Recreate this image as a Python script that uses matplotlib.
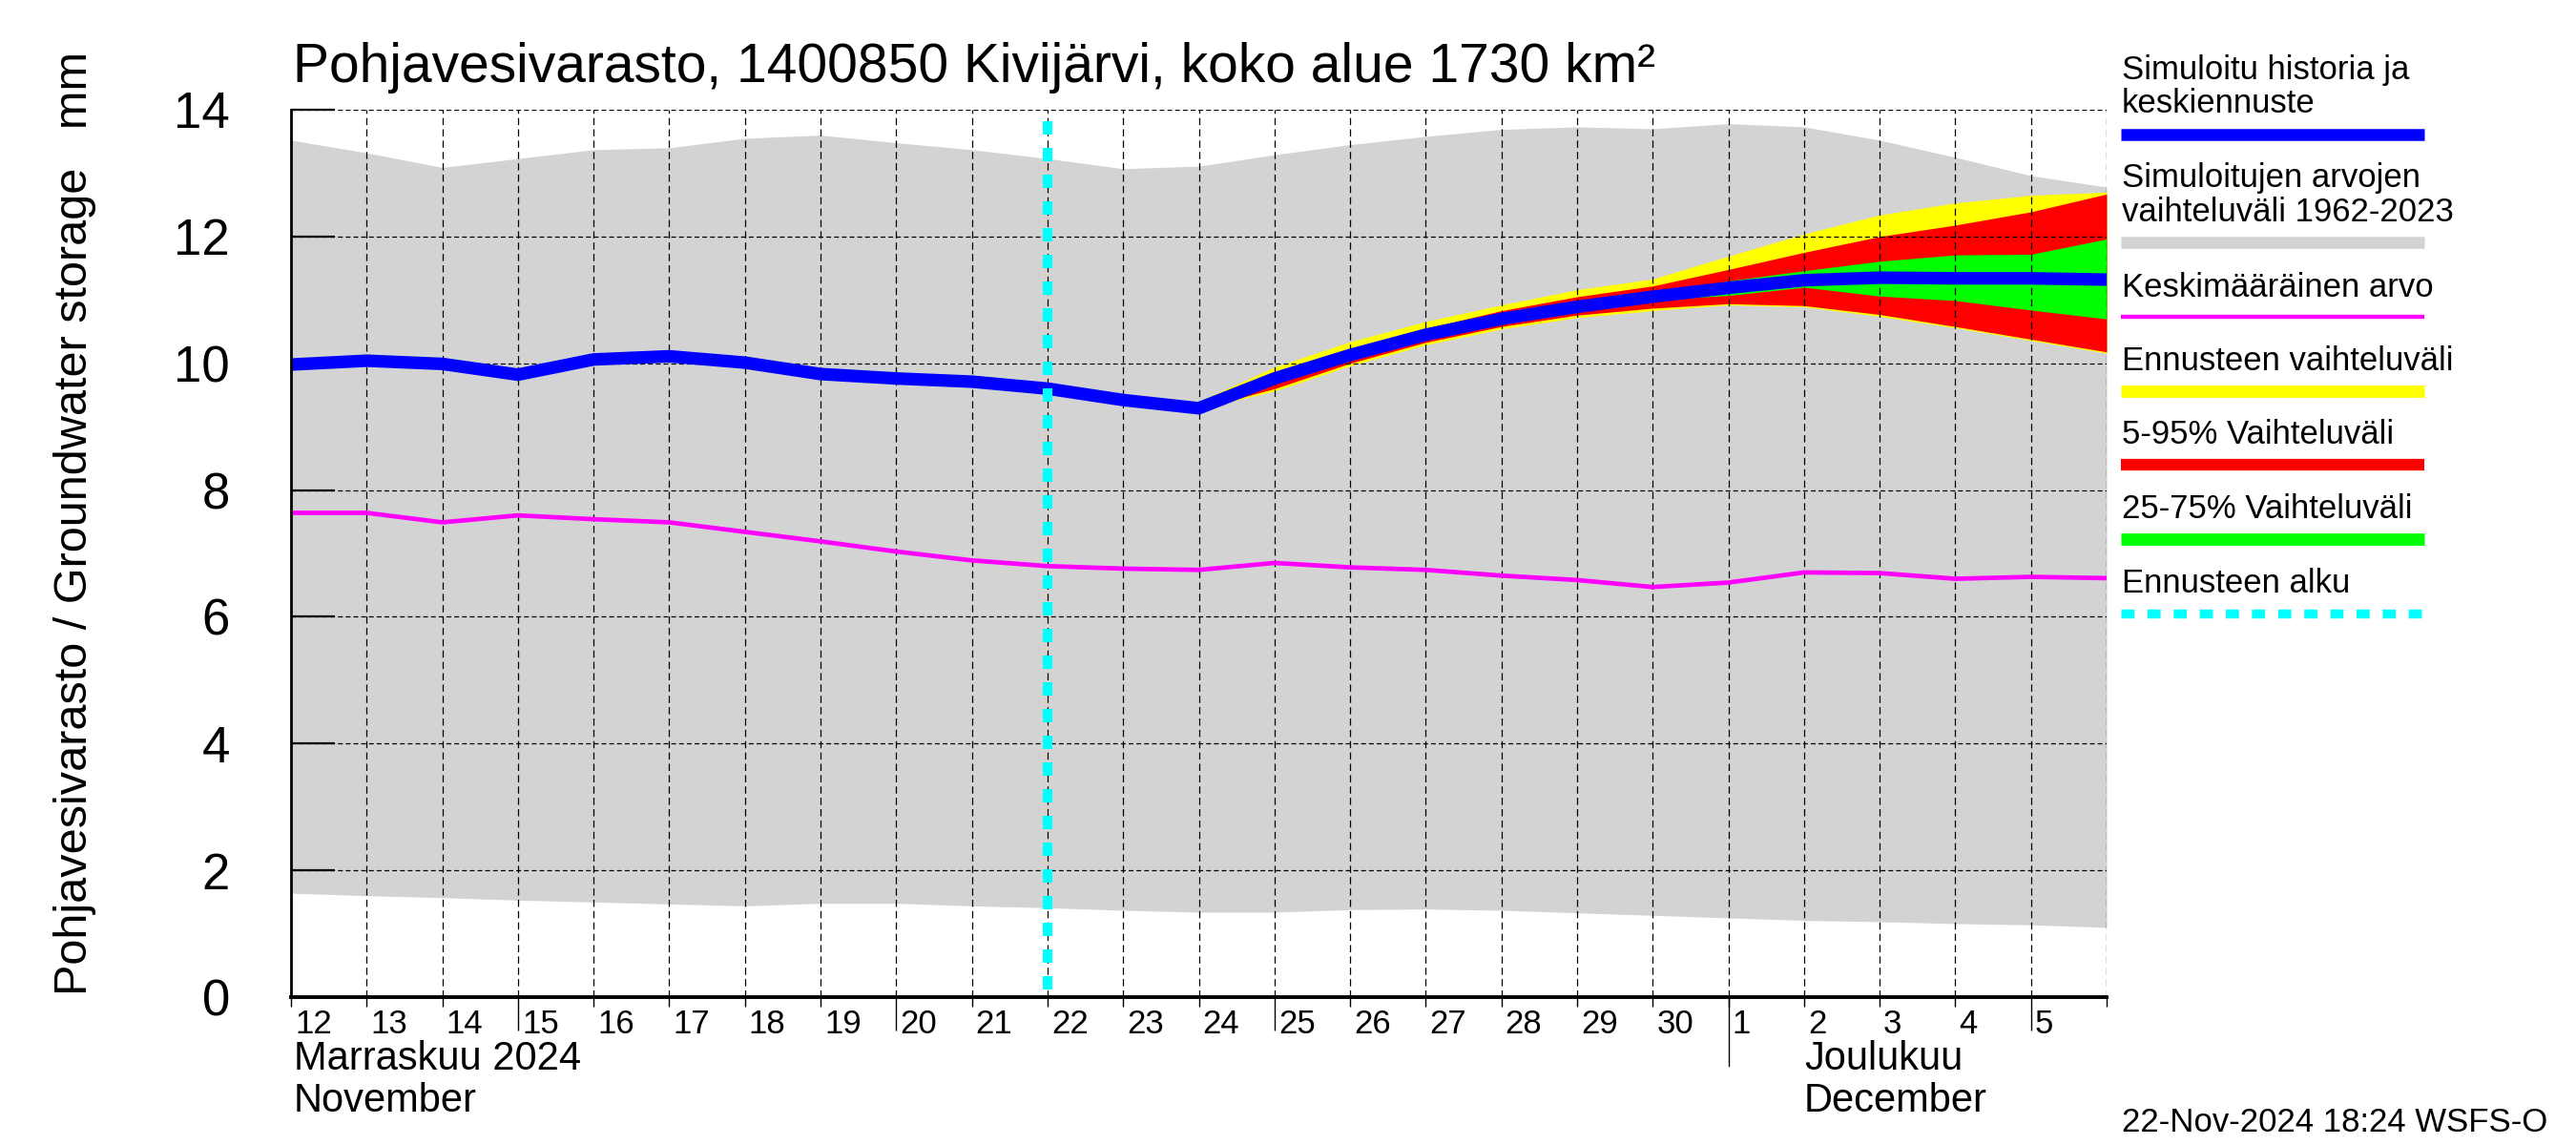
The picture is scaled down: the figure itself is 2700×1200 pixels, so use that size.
import matplotlib
matplotlib.use('Agg')
import matplotlib.pyplot as plt
import matplotlib.transforms as mtrans
from matplotlib.lines import Line2D

plt.rcParams['font.family'] = ['Liberation Sans', 'DejaVu Sans']

# ---------------- data ----------------
# day index 0 = 12 Nov 2024 00:00 ... 24 = 6 Dec 2024 00:00
days = list(range(25))
hist_max = [13.52, 13.32, 13.09, 13.23, 13.37, 13.40, 13.55, 13.60, 13.48, 13.37,
            13.23, 13.07, 13.11, 13.29, 13.45, 13.58, 13.69, 13.73, 13.70, 13.78,
            13.73, 13.52, 13.25, 12.96, 12.78]
hist_min = [1.64, 1.60, 1.57, 1.53, 1.50, 1.47, 1.44, 1.48, 1.48, 1.44,
            1.41, 1.37, 1.34, 1.34, 1.38, 1.39, 1.37, 1.33, 1.29, 1.25,
            1.21, 1.19, 1.16, 1.14, 1.10]
simulated = [9.98, 10.04, 9.99, 9.82, 10.06, 10.11, 10.01, 9.83, 9.76, 9.71,
             9.60, 9.42, 9.29, 9.76, 10.13, 10.45, 10.70, 10.89, 11.05, 11.19,
             11.31, 11.35, 11.34, 11.34, 11.32]
mean_value = [7.64, 7.64, 7.49, 7.60, 7.54, 7.49, 7.34, 7.19, 7.03, 6.89,
              6.80, 6.76, 6.74, 6.85, 6.78, 6.74, 6.65, 6.58, 6.47, 6.54,
              6.70, 6.69, 6.60, 6.63, 6.61]

fc_days = list(range(10, 25))
fc_max = [9.60, 9.43, 9.40, 9.94, 10.34, 10.66, 10.92, 11.16, 11.33, 11.69,
          12.04, 12.34, 12.53, 12.65, 12.70]
fc_min = [9.60, 9.42, 9.28, 9.56, 9.96, 10.29, 10.54, 10.72, 10.83, 10.92,
          10.89, 10.74, 10.56, 10.36, 10.16]
fc_p95 = [9.60, 9.42, 9.32, 9.85, 10.22, 10.55, 10.83, 11.05, 11.22, 11.48,
          11.75, 12.00, 12.18, 12.39, 12.67]
fc_p05 = [9.60, 9.42, 9.28, 9.60, 10.00, 10.33, 10.58, 10.76, 10.87, 10.94,
          10.91, 10.77, 10.58, 10.38, 10.18]
fc_p75 = [9.60, 9.42, 9.30, 9.80, 10.16, 10.48, 10.74, 10.93, 11.10, 11.30,
          11.46, 11.61, 11.71, 11.72, 11.96]
fc_p25 = [9.60, 9.42, 9.29, 9.72, 10.10, 10.42, 10.66, 10.85, 11.00, 11.07,
          11.20, 11.06, 10.99, 10.84, 10.70]

forecast_start = 10
day_labels = ['12', '13', '14', '15', '16', '17', '18', '19', '20', '21', '22', '23',
              '24', '25', '26', '27', '28', '29', '30', '1', '2', '3', '4', '5']
long_tick_days = [3, 8, 13, 23]
month_start_day = 19
y_ticks = [0, 2, 4, 6, 8, 10, 12, 14]

title = 'Pohjavesivarasto, 1400850 Kivijärvi, koko alue 1730 km²'
ylabel = 'Pohjavesivarasto / Groundwater storage   mm'
month1 = ['Marraskuu 2024', 'November']
month2 = ['Joulukuu', 'December']
timestamp = '22-Nov-2024 18:24 WSFS-O'
legend_entries = [
    ('Simuloitu historia ja\nkeskiennuste', '#0000ff', 9.0, 'solid'),
    ('Simuloitujen arvojen\nvaihteluväli 1962-2023', '#d3d3d3', 9.0, 'solid'),
    ('Keskimääräinen arvo', '#ff00ff', 3.2, 'solid'),
    ('Ennusteen vaihteluväli', '#ffff00', 9.2, 'solid'),
    ('5-95% Vaihteluväli', '#ff0000', 8.8, 'solid'),
    ('25-75% Vaihteluväli', '#00ff00', 9.2, 'solid'),
    ('Ennusteen alku', '#00ffff', 6.8, 'dashed'),
]

# ---------------- figure ----------------
W, H = 2700, 1200
fig = plt.figure(figsize=(27, 12), dpi=100)


def fx(x):
    return x / W


def fy(y):
    return 1 - y / H


ax = fig.add_axes([fx(305), fy(1045), (2208 - 305) / W, (1045 - 115) / H])
ax.set_xlim(0, 24)
ax.set_ylim(0, 14)

# bands and lines
ax.fill_between(days, hist_min, hist_max, color='#d3d3d3', lw=0, zorder=1)
ax.fill_between(fc_days, fc_min, fc_max, color='#ffff00', lw=0, zorder=2)
ax.fill_between(fc_days, fc_p05, fc_p95, color='#ff0000', lw=0, zorder=2.1)
ax.fill_between(fc_days, fc_p25, fc_p75, color='#00ff00', lw=0, zorder=2.2)
ax.plot(days, mean_value, color='#ff00ff', lw=3.4, zorder=4, solid_joinstyle='miter')
ax.plot(days, simulated, color='#0000ff', lw=9.5, zorder=4.5, solid_joinstyle='miter')
ax.plot([forecast_start, forecast_start], [13.82, 0], color='#00ffff', lw=7.2,
        linestyle=(0, (1.4, 1.4)), dash_capstyle='butt', zorder=6, clip_on=False)

# grid
ax.set_yticks(y_ticks)
ax.set_xticks(long_tick_days)
ax.set_xticks([d for d in days if d not in long_tick_days], minor=True)
ax.grid(True, which='both', axis='x', color='black', lw=0.9, linestyle=(0, (6, 3.5)), zorder=3)
ax.grid(True, which='major', axis='y', color='black', lw=0.9, linestyle=(0, (4, 2.5)), zorder=3)
ax.set_axisbelow(False)
for gl in ax.get_xgridlines() + ax.get_ygridlines():
    gl.set_zorder(3)

for s in ['top', 'right']:
    ax.spines[s].set_visible(False)
ax.spines['left'].set_linewidth(2.0)
ax.spines['bottom'].set_linewidth(2.8)
ax.spines['left'].set_zorder(7)
ax.spines['bottom'].set_zorder(7)

ax.tick_params(axis='y', direction='in', length=33, width=1.6, pad=46, labelsize=38)
for lab in ax.get_yticklabels():
    lab.set_y(lab.get_position()[1])
ax.tick_params(axis='x', which='major', direction='out', length=25, width=1.0,
               labelbottom=False)
ax.tick_params(axis='x', which='minor', direction='out', length=7.5, width=1.0,
               labelbottom=False)

trans = mtrans.blended_transform_factory(ax.transData, fig.transFigure)
# month boundary tick
fig.add_artist(Line2D([fx(305 + month_start_day * 1903 / 24)] * 2, [fy(1045), fy(1117)],
                      color='black', lw=1.0))

# day labels
for i, lab in enumerate(day_labels):
    ax.text(i, fy(1057), lab, transform=trans + mtrans.ScaledTranslation(4 / 100, 0, fig.dpi_scale_trans),
            ha='left', va='top', fontsize=25)

# month labels
ax.text(0, fy(1121), month1[0], transform=trans + mtrans.ScaledTranslation(3 / 100, 0, fig.dpi_scale_trans),
        ha='left', va='baseline', fontsize=30)
ax.text(0, fy(1165), month1[1], transform=trans + mtrans.ScaledTranslation(3 / 100, 0, fig.dpi_scale_trans),
        ha='left', va='baseline', fontsize=30)
ax.text(20, fy(1121), month2[0], transform=trans, ha='left', va='baseline', fontsize=30)
ax.text(20, fy(1165), month2[1], transform=trans, ha='left', va='baseline', fontsize=30)

# title, y label, timestamp
fig.text(fx(307), fy(86), title, ha='left', va='baseline', fontsize=41)
fig.text(fx(79), fy(548), ylabel, rotation=90, ha='center', va='center', fontsize=35)
fig.text(fx(2224), fy(1176), timestamp, ha='left', va='center', fontsize=25)

# legend
text_baselines = [(83, 118), (196, 232), (311,), (388,), (465,), (543,), (621,)]
bar_y = [141, 254, 332, 410, 487, 565, 643]
for (lab, col, lw, style), bl, by in zip(legend_entries, text_baselines, bar_y):
    for line, b in zip(lab.split('\n'), bl):
        fig.text(fx(2224), fy(b), line, ha='left', va='baseline', fontsize=25)
    if style == 'dashed':
        ls = (0, (1.45, 1.45))
    else:
        ls = 'solid'
    fig.add_artist(Line2D([fx(2223), fx(2541)], [fy(by), fy(by)], color=col, lw=lw,
                          linestyle=ls, solid_capstyle='butt', dash_capstyle='butt'))

fig.savefig('out.png', dpi=100)
